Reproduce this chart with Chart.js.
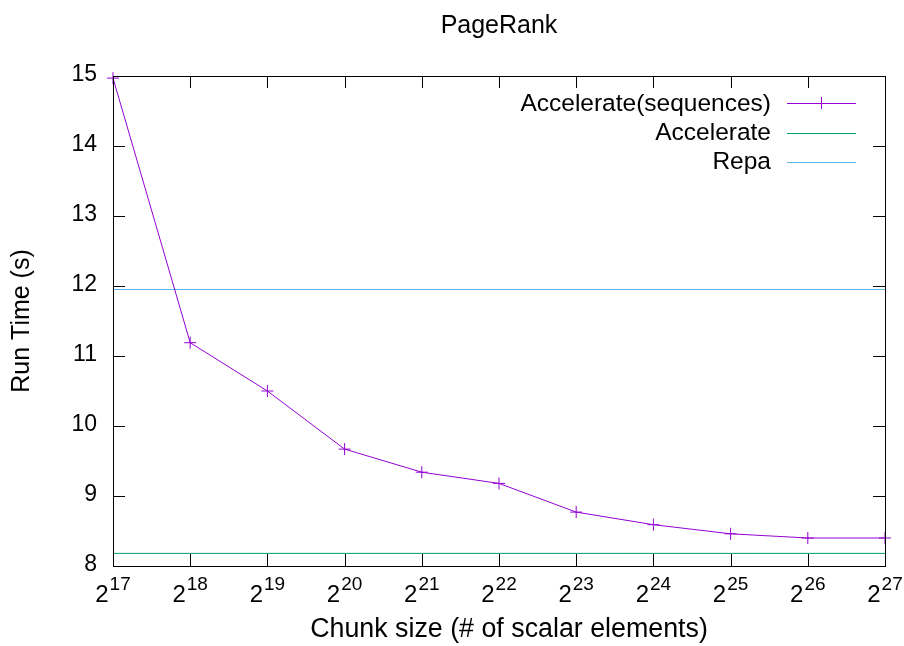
<!DOCTYPE html>
<html>
<head>
<meta charset="utf-8">
<script src="https://cdn.jsdelivr.net/npm/chart.js@4/dist/chart.umd.min.js"></script>
<style>
  html, body { margin: 0; padding: 0; background: #fff; }
  #wrap { width: 904px; height: 646px; }
</style>
</head>
<body>
<div id="wrap"><canvas id="chart"></canvas></div>
<script>
// chunk size exponents (2^n)
const exponents = [17, 18, 19, 20, 21, 22, 23, 24, 25, 26, 27];
const seqTimes = [14.97, 11.19, 10.5, 9.67, 9.34, 9.18, 8.77, 8.59, 8.46, 8.40, 8.40];
const accelerateTime = 8.18;
const repaTime = 11.95;
const yTicks = [8, 9, 10, 11, 12, 13, 14, 15];
const seriesNames = ['Accelerate(sequences)', 'Accelerate', 'Repa'];
const seriesColors = ['#9400d3', '#009e73', '#56b4e9'];

const FONT = '"Liberation Sans", Arial, sans-serif';

const flat = (v) => [
  { x: exponents[0], y: v },
  { x: exponents[exponents.length - 1], y: v },
];

// gnuplot style frame, ticks, labels and key
const gnuplotFrame = {
  id: 'gnuplotFrame',
  afterDatasetsDraw(chart) {
    const { ctx, chartArea: a, scales } = chart;
    const xs = scales.x, ys = scales.y;
    ctx.save();
    ctx.strokeStyle = '#000';
    ctx.lineWidth = 1;
    ctx.strokeRect(Math.round(a.left) + 0.5, Math.round(a.top) + 0.5,
      Math.round(a.right - a.left), Math.round(a.bottom - a.top));

    const tl = 12;
    ctx.beginPath();
    exponents.forEach((e) => {
      const px = Math.round(xs.getPixelForValue(e)) + 0.5;
      ctx.moveTo(px, a.bottom); ctx.lineTo(px, a.bottom - tl);
      ctx.moveTo(px, a.top); ctx.lineTo(px, a.top + tl);
    });
    yTicks.forEach((t) => {
      const py = Math.round(ys.getPixelForValue(t)) + 0.5;
      ctx.moveTo(a.left, py); ctx.lineTo(a.left + tl, py);
      ctx.moveTo(a.right, py); ctx.lineTo(a.right - tl, py);
    });
    ctx.stroke();

    ctx.fillStyle = '#000';
    // y tick labels
    ctx.font = '23px ' + FONT;
    ctx.textAlign = 'right';
    ctx.textBaseline = 'middle';
    yTicks.forEach((t) => {
      ctx.fillText(String(t), a.left - 16, ys.getPixelForValue(t) - 1);
    });

    // x tick labels 2^n
    ctx.textBaseline = 'alphabetic';
    exponents.forEach((e) => {
      const px = xs.getPixelForValue(e);
      ctx.font = '24px ' + FONT;
      const wb = ctx.measureText('2').width;
      ctx.font = '19px ' + FONT;
      const ws = ctx.measureText(String(e)).width;
      const start = px - (wb + 1 + ws) / 2;
      ctx.textAlign = 'left';
      ctx.font = '24px ' + FONT;
      ctx.fillText('2', start, a.bottom + 36);
      ctx.font = '19px ' + FONT;
      ctx.fillText(String(e), start + wb + 1, a.bottom + 24);
    });

    // title and axis titles
    ctx.textAlign = 'center';
    ctx.font = '25px ' + FONT;
    ctx.fillText('PageRank', (a.left + a.right) / 2, 33);
    ctx.font = '26.8px ' + FONT;
    ctx.fillText('Chunk size (# of scalar elements)', (a.left + a.right) / 2 + 10, 637);
    ctx.save();
    ctx.translate(29, (a.top + a.bottom) / 2);
    ctx.rotate(-Math.PI / 2);
    ctx.font = '25px ' + FONT;
    ctx.fillText('Run Time (s)', 0, 0);
    ctx.restore();

    // key
    ctx.font = '24.5px ' + FONT;
    ctx.textAlign = 'right';
    ctx.textBaseline = 'middle';
    const rows = [103, 132.5, 161.5];
    seriesNames.forEach((name, i) => {
      ctx.fillStyle = '#000';
      ctx.fillText(name, 771, rows[i] + 1);
      ctx.strokeStyle = seriesColors[i];
      ctx.beginPath();
      ctx.moveTo(787, Math.round(rows[i]) + 0.5);
      ctx.lineTo(856, Math.round(rows[i]) + 0.5);
      if (i === 0) {
        ctx.moveTo(821.5, rows[i] - 6);
        ctx.lineTo(821.5, rows[i] + 6);
      }
      ctx.stroke();
    });
    ctx.restore();
  },
};

new Chart(document.getElementById('chart'), {
  type: 'scatter',
  data: {
    datasets: [
      {
        label: seriesNames[0],
        data: exponents.map((e, i) => ({ x: e, y: seqTimes[i] })),
        showLine: true,
        borderColor: seriesColors[0],
        backgroundColor: seriesColors[0],
        borderWidth: 1,
        pointStyle: 'cross',
        pointRadius: 6,
        pointBorderWidth: 1,
        clip: false,
        order: 0,
      },
      {
        label: seriesNames[1],
        data: flat(accelerateTime),
        showLine: true,
        borderColor: seriesColors[1],
        borderWidth: 1,
        pointRadius: 0,
        order: 1,
      },
      {
        label: seriesNames[2],
        data: flat(repaTime),
        showLine: true,
        borderColor: seriesColors[2],
        borderWidth: 1,
        pointRadius: 0,
        order: 2,
      },
    ],
  },
  options: {
    responsive: true,
    maintainAspectRatio: false,
    animation: false,
    layout: { padding: { left: 113, top: 76, right: 19, bottom: 80 } },
    plugins: { legend: { display: false }, tooltip: { enabled: false } },
    scales: {
      x: { type: 'linear', min: 17, max: 27, display: false },
      y: { type: 'linear', min: 8, max: 15, display: false },
    },
  },
  plugins: [gnuplotFrame],
});
</script>
</body>
</html>
